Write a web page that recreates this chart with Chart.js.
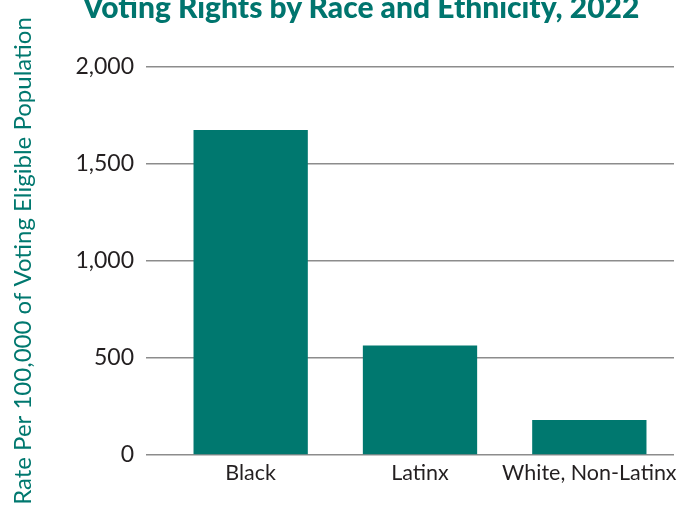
<!DOCTYPE html>
<html lang="en">
<head>
  <meta charset="UTF-8">
  <title>Voting Rights by Race and Ethnicity, 2022</title>
  <style>
    html, body {
      margin: 0;
      padding: 0;
      background: #ffffff;
      overflow: hidden;
    }
    #wrap {
      position: relative;
      width: 691px;
      height: 506px;
    }
    #chartTitle {
      position: absolute;
      left: 361px;
      top: -12px;
      transform: translateX(-50%);
      white-space: nowrap;
      font-family: Lato, sans-serif;
      font-weight: 900;
      font-size: 30px;
      color: #00756e;
    }
  </style>
  <script src="https://cdn.jsdelivr.net/npm/chart.js"></script>
</head>
<body>
  <div id="wrap">
    <canvas id="chartCanvas" width="691" height="506"></canvas>
    <div id="chartTitle">Voting Rights by Race and Ethnicity, 2022</div>
  </div>

  <script>
    // chart data
    const categories = ['Black', 'Latinx', 'White, Non-Latinx'];
    const rates = [1675, 565, 180];
    const yTicks = [0, 500, 1000, 1500, 2000];

    const teal = '#00786f';
    const ink = '#231f20';

    const ctx = document.getElementById('chartCanvas').getContext('2d');

    const chart = new Chart(ctx, {
      type: 'bar',
      data: {
        labels: categories,
        datasets: [{
          label: 'Rate',
          data: rates,
          backgroundColor: teal,
          borderWidth: 0,
          categoryPercentage: 1,
          barPercentage: 0.675
        }]
      },
      options: {
        responsive: false,
        animation: false,
        devicePixelRatio: 1,
        layout: {
          padding: { top: 67, right: 17, bottom: 0, left: 0 }
        },
        plugins: {
          legend: { display: false },
          title: { display: false },
          tooltip: { enabled: false }
        },
        scales: {
          x: {
            grid: { display: false, drawTicks: false },
            border: { display: false },
            ticks: {
              color: ink,
              padding: 5,
              autoSkip: false,
              maxRotation: 0,
              minRotation: 0,
              font: { family: 'Lato', size: 21.5 }
            },
            afterFit: scale => { scale.height = 51; }
          },
          y: {
            min: 0,
            max: 2000,
            afterBuildTicks: scale => {
              scale.ticks = yTicks.map(v => ({ value: v }));
            },
            grid: {
              color: '#8c8c8c',
              lineWidth: 1.5,
              tickLength: 20,
              drawTicks: true
            },
            border: { display: false },
            ticks: {
              color: ink,
              padding: 12,
              font: { family: 'Lato', size: 23 },
              callback: v => v.toLocaleString('en-US')
            },
            title: {
              display: true,
              text: 'Rate Per 100,000 of Voting Eligible Population',
              color: teal,
              padding: { top: 9, bottom: 0 },
              font: { family: 'Lato', size: 24 }
            },
            afterFit: scale => { scale.width = 166; }
          }
        }
      }
    });
  </script>
</body>
</html>
